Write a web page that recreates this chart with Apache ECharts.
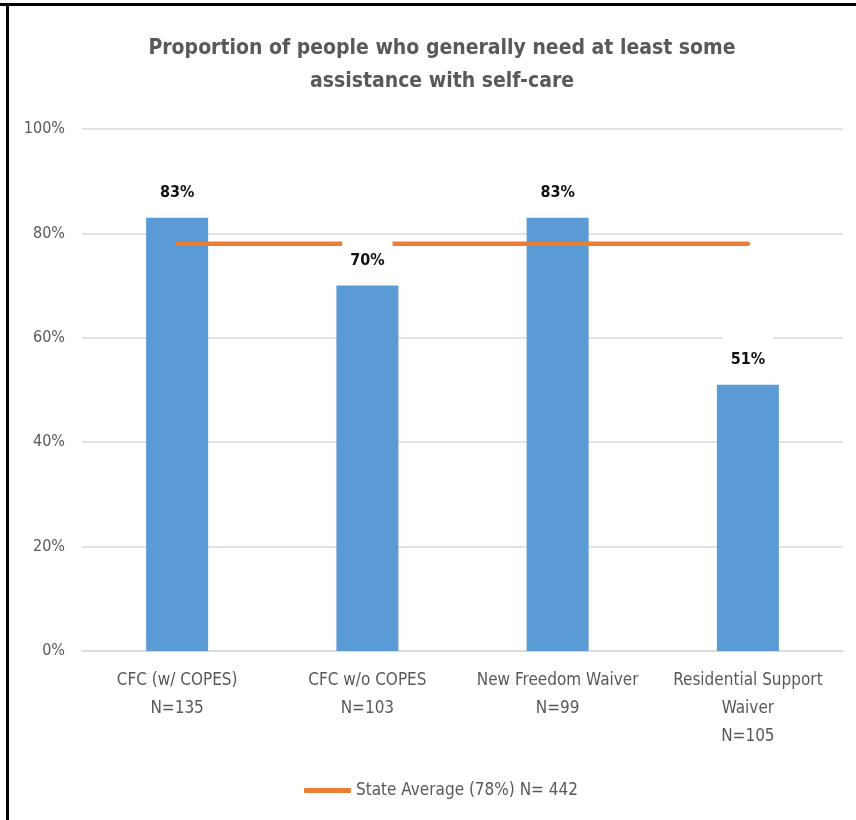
<!DOCTYPE html>
<html>
<head>
<meta charset="utf-8">
<script src="https://cdn.jsdelivr.net/npm/echarts@6/dist/echarts.min.js"></script>
<style>html,body{margin:0;padding:0;background:#fff}#c{width:856px;height:820px}</style>
</head>
<body>
<div id="c"></div>
<script>
// ---- data ----
var categories = ['CFC (w/ COPES)', 'CFC w/o COPES', 'New Freedom Waiver', 'Residential Support\nWaiver'];
var sampleSizes = ['N=135', 'N=103', 'N=99', 'N=105'];
var values = [83, 70, 83, 51];
var stateAverage = [78, 78, 78, 78];
var yTicks = [0, 20, 40, 60, 80, 100];
var titleText = 'Proportion of people who generally need at least some\nassistance with self-care';
var lineName = 'State Average (78%) N= 442';

var FONT = "'DejaVu Sans Condensed','Liberation Sans',sans-serif";
var axisCats = categories.map(function (c, i) { return c + '\n' + sampleSizes[i]; });

var chart = echarts.init(document.getElementById('c'), null, {renderer: 'canvas'});
chart.setOption({
  backgroundColor: '#ffffff',
  animation: false,
  graphic: [
    {type: 'rect', shape: {x: 0, y: 3, width: 856, height: 3}, style: {fill: '#000'}},
    {type: 'rect', shape: {x: 6, y: 3, width: 3, height: 817}, style: {fill: '#000'}}
  ],
  title: {
    text: titleText,
    left: 437,
    textAlign: 'center',
    top: 27,
    textStyle: {fontFamily: FONT, fontSize: 21, fontWeight: 'bold', color: '#595959', lineHeight: 33}
  },
  legend: {
    data: [lineName],
    left: 299,
    top: 777,
    icon: 'roundRect',
    itemWidth: 47,
    itemHeight: 5,
    textStyle: {fontFamily: FONT, fontSize: 17, color: '#595959'}
  },
  grid: {left: 82, right: 13, top: 129, bottom: 169, containLabel: false},
  xAxis: {
    type: 'category',
    data: axisCats,
    axisTick: {show: false},
    axisLine: {show: true, lineStyle: {color: '#D9D9D9', width: 1.5}},
    axisLabel: {fontFamily: FONT, fontSize: 17, color: '#595959', lineHeight: 28, margin: 16, interval: 0}
  },
  yAxis: {
    type: 'value',
    min: yTicks[0],
    max: yTicks[yTicks.length - 1],
    interval: 20,
    axisLine: {show: false},
    axisTick: {show: false},
    splitLine: {lineStyle: {color: '#D9D9D9', width: 1.5}},
    axisLabel: {fontFamily: FONT, fontSize: 16, color: '#595959', margin: 17, formatter: '{value}%'}
  },
  series: [
    {
      name: 'Proportion',
      type: 'bar',
      data: values,
      barWidth: 62,
      z: 2,
      itemStyle: {color: '#5B9BD5'}
    },
    {
      name: lineName,
      type: 'line',
      data: stateAverage,
      symbol: 'none',
      z: 3,
      lineStyle: {color: '#ED7D31', width: 4.5, cap: 'round'},
      itemStyle: {color: '#ED7D31'}
    },
    {
      name: 'labels',
      type: 'bar',
      data: values,
      barWidth: 62,
      barGap: '-100%',
      z: 4,
      itemStyle: {color: 'rgba(0,0,0,0)'},
      label: {
        show: true,
        position: 'top',
        distance: 13,
        formatter: '{c}%',
        fontFamily: FONT,
        fontSize: 16,
        fontWeight: 'bold',
        color: '#111',
        backgroundColor: '#ffffff',
        padding: [15, 8, 4, 8]
      }
    }
  ]
});
</script>
</body>
</html>
